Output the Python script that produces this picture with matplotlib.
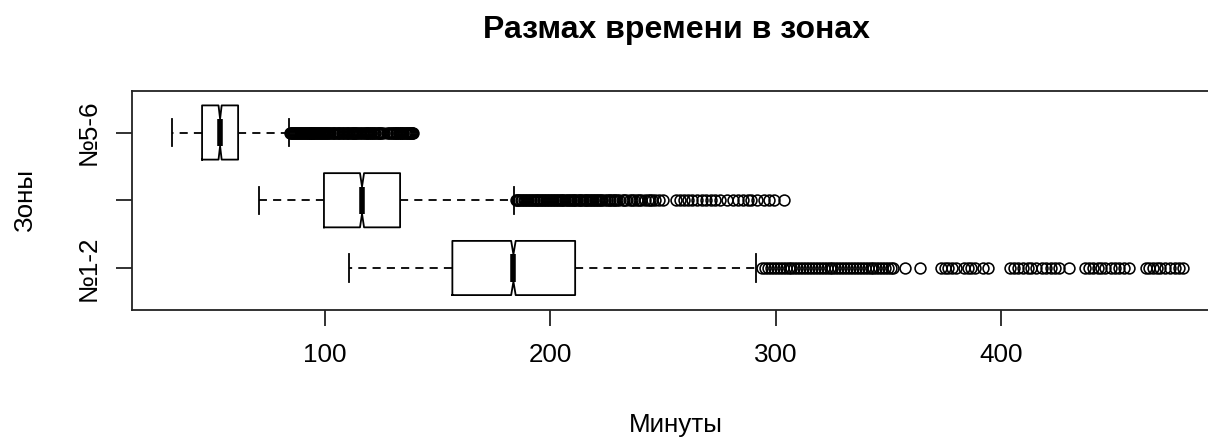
import matplotlib
matplotlib.use("Agg")
import matplotlib.pyplot as plt

plt.rcParams['font.family'] = ['Liberation Sans', 'DejaVu Sans']

# zones, bottom to top (middle label is hidden in the original)
zone_labels = ['№1-2', '', '№5-6']

# five-number summaries (minutes)
whisk_lo = [110.6, 70.7, 32.1]
q1 = [156.5, 99.5, 45.4]
median = [183.6, 116.4, 53.4]
q3 = [211.0, 133.3, 61.4]
whisk_hi = [291.2, 183.9, 84.0]
notch_half = [1.0, 0.9, 0.7]

out_12 = [294.0, 295.3, 296.6, 297.9, 299.2, 300.5, 301.8, 303.1, 304.4, 305.7,
          307.0, 308.3, 309.6, 310.9, 312.2, 313.5, 314.8, 316.1, 317.4, 318.7,
          320.0, 321.3, 322.6, 323.9, 325.2, 326.5, 327.8, 329.1, 330.4, 331.7,
          333.0, 334.3, 335.6, 336.9, 338.2, 339.5, 340.8, 342.1, 343.4, 344.7,
          346.0, 347.3, 348.6, 349.9, 351.2, 352.3, 357.5, 364.0, 373.5, 375.0,
          376.6, 378.1, 380.0, 383.8, 385.3, 386.9, 388.6, 391.9, 394.2, 404.2,
          405.9, 407.6, 409.9, 411.8, 413.5, 415.7, 418.4, 420.1, 422.0, 423.9,
          425.6, 430.2, 437.3, 439.0, 440.8, 442.9, 444.6, 446.2, 448.8, 450.5,
          452.3, 454.6, 457.0, 464.3, 465.9, 467.5, 469.1, 470.8, 472.6, 474.9,
          477.3, 479.2, 480.6]
out_34 = [184.6, 185.0, 185.6, 186.2, 186.9, 187.5, 188.2, 188.9, 189.5, 190.1,
          190.8, 191.4, 192.1, 192.8, 193.4, 194.0, 194.7, 195.3, 196.0, 196.7,
          197.3, 198.0, 198.7, 199.4, 200.0, 200.6, 201.2, 201.9, 202.6, 203.3,
          203.9, 204.5, 205.1, 205.8, 206.5, 207.2, 207.9, 208.6, 209.2, 209.9,
          210.5, 211.1, 211.8, 212.5, 213.1, 213.8, 214.5, 215.2, 215.8, 216.4,
          217.0, 217.7, 218.4, 219.1, 219.7, 220.4, 221.1, 221.8, 222.4, 223.0,
          224.3, 225.1, 225.9, 226.6, 227.4, 228.1, 228.8, 229.7, 230.5, 232.1,
          232.8, 233.6, 235.4, 236.1, 236.9, 238.5, 239.3, 240.1, 241.8, 243.3,
          244.1, 245.0, 246.6, 248.3, 250.1, 255.8, 257.6, 259.3, 261.2, 263.0,
          265.1, 267.4, 269.0, 271.3, 273.0, 275.2, 278.6, 281.0, 283.1, 285.4,
          287.6, 289.2, 291.5, 294.8, 297.0, 299.4, 303.8]
out_56 = [84.6, 85.0, 85.4, 85.9, 86.3, 86.7, 87.2, 87.6, 88.0, 88.4,
          88.9, 89.3, 89.7, 90.1, 90.6, 91.0, 91.4, 91.8, 92.3, 92.7,
          93.1, 93.5, 94.0, 94.4, 94.8, 95.2, 95.7, 96.1, 96.5, 96.9,
          97.4, 97.8, 98.2, 98.6, 99.1, 99.5, 99.9, 100.3, 100.8, 101.2,
          101.8, 102.4, 103.1, 103.6, 104.0, 104.6, 105.2, 105.7, 106.1, 106.7,
          107.3, 108.0, 108.6, 109.2, 109.7, 110.1, 110.7, 111.3, 111.8, 112.2,
          112.8, 113.4, 113.9, 114.3, 114.9, 115.5, 116.2, 116.8, 117.6, 118.1,
          118.5, 119.1, 119.7, 120.2, 120.6, 121.4, 121.9, 122.3, 122.9, 123.5,
          124.0, 124.4, 125.0, 125.6, 127.4, 128.3, 128.9, 129.6, 130.2, 130.8,
          131.3, 131.7, 132.1, 132.6, 133.0, 133.5, 133.9, 134.4, 134.8, 135.3,
          135.7, 136.2, 136.6, 137.1, 137.5, 138.0, 138.4, 138.8, 139.2]
outliers = [out_12, out_34, out_56]

x_ticks = [100, 200, 300, 400]

stats = []
for i in range(3):
    stats.append({
        'whislo': whisk_lo[i], 'q1': q1[i], 'med': median[i], 'q3': q3[i],
        'whishi': whisk_hi[i], 'fliers': outliers[i],
        'cilo': median[i] - notch_half[i], 'cihi': median[i] + notch_half[i],
    })

fig = plt.figure(figsize=(12.08, 4.37), dpi=100)
W, H = 1208, 437
# plot region is wider than the picture: right edge is cropped like the source
ax = fig.add_axes([132 / W, 1 - 310 / H, (1224 - 132) / W, (310 - 90.5) / H])

lw = 1.3
ax.bxp(stats, positions=[1, 2, 3], widths=0.8, orientation='horizontal',
       shownotches=True,
       boxprops=dict(color='black', linewidth=lw),
       whiskerprops=dict(color='black', linewidth=lw, linestyle=(0, (4.5, 3.4))),
       capprops=dict(color='black', linewidth=lw),
       medianprops=dict(color='black', linewidth=4.0, solid_capstyle='butt'),
       flierprops=dict(marker='o', markerfacecolor='none', markeredgecolor='black',
                       markersize=7.8, markeredgewidth=1.15, linestyle='none'))

ax.set_xlim(14.3, 499)
ax.set_ylim(0.38, 3.62)
ax.set_xticks(x_ticks)
ax.set_xticklabels([str(v) for v in x_ticks], fontsize=18.7)
ax.set_yticks([1, 2, 3])
ax.set_yticklabels(zone_labels, fontsize=18.7, rotation=90, va='center')
ax.tick_params(axis='both', length=11.5, width=lw, color='#222222')
ax.tick_params(axis='x', pad=12.2)
ax.tick_params(axis='y', pad=11)
for s in ax.spines.values():
    s.set_linewidth(lw)
    s.set_color('#222222')

fig.text(676 / W, 1 - 38 / H, 'Размах времени в зонах', ha='center', va='baseline',
         fontsize=23, fontweight='bold')
fig.text(676 / W, 1 - 432 / H, 'Минуты', ha='center', va='baseline', fontsize=18.7)
fig.text(32 / W, 1 - 200 / H, 'Зоны', ha='center', va='baseline', fontsize=18.7,
         rotation=90, rotation_mode='anchor')

fig.savefig('out.png', dpi=100)
